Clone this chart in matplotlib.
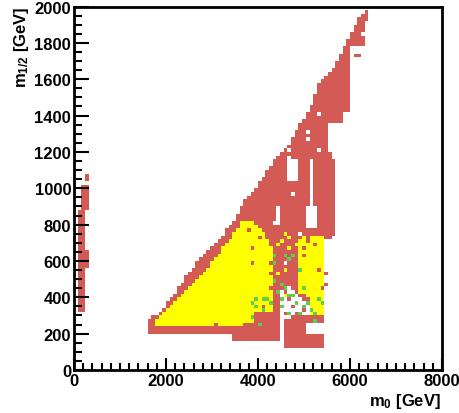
import numpy as np
import matplotlib
matplotlib.use("Agg")
import matplotlib.pyplot as plt
from matplotlib.path import Path
from matplotlib.colors import ListedColormap
from matplotlib.ticker import MultipleLocator

plt.rcParams["font.family"] = ["Liberation Sans", "DejaVu Sans"]
plt.rcParams["mathtext.fontset"] = "custom"
plt.rcParams["mathtext.rm"] = "Liberation Sans:bold"
plt.rcParams["mathtext.it"] = "Liberation Sans:bold"
plt.rcParams["mathtext.bf"] = "Liberation Sans:bold"

# scan binning (GeV)
m0_edges = np.arange(0, 8001, 80)
m12_edges = np.arange(0, 2001, 20)

# outlines of the red (allowed) area, (m0, m1/2) in GeV
red_main = [
    (1600, 200), (1590, 265), (1870, 320), (2300, 460), (2740, 620),
    (3170, 720), (3540, 845), (3670, 920), (3980, 1010), (4110, 1065),
    (4330, 1140), (4480, 1195), (4700, 1250), (4850, 1320), (4980, 1380),
    (5130, 1450), (5350, 1590), (5610, 1645), (5720, 1710), (5890, 1775),
    (6065, 1875), (6150, 1920), (6280, 1970), (6370, 1990),
    (6400, 1990), (6400, 1960), (6350, 1920), (6350, 1885), (6290, 1875),
    (6290, 1780), (6000, 1780), (6000, 1420), (5850, 1420), (5850, 1355),
    (5500, 1355), (5500, 1200), (5565, 1200), (5565, 1160), (5680, 1160),
    (5680, 745), (5460, 715), (5460, 255), (5420, 220), (5420, 115),
    (4560, 115), (4560, 150), (3400, 150), (3400, 190), (1700, 190),
]
red_strip_top = [(240, 1040), (320, 1040), (320, 1080), (240, 1080)]
red_strip = [
    (160, 1020), (320, 1020), (320, 880), (260, 880), (260, 660),
    (320, 660), (320, 560), (260, 560), (260, 310), (80, 310),
    (80, 880), (160, 880),
]
red_regions = [red_main, red_strip_top, red_strip]

# empty pockets inside the red area
white_holes = [
    [(4640, 1040), (4870, 1040), (4870, 1150), (4640, 1150)],
    [(5080, 1150), (5220, 1150), (5220, 900), (5300, 900), (5300, 780),
     (5030, 780), (5030, 900), (5080, 900)],
    [(4480, 130), (4560, 130), (4560, 280), (4700, 280), (4700, 300),
     (5080, 300), (5080, 360), (4980, 390), (4850, 420), (4720, 450),
     (4560, 450), (4480, 420)],
    [(5080, 200), (5420, 200), (5420, 260), (5080, 260)],
]

# yellow areas
yellow_regions = [
    [(1760, 232), (1760, 265), (2240, 400), (2890, 560), (3460, 745),
     (3650, 815), (3940, 815), (4100, 760), (4250, 700), (4330, 650),
     (4330, 310), (3900, 310), (3900, 252), (3700, 252), (3700, 232)],
    [(4850, 700), (5000, 740), (5460, 740), (5460, 300), (5100, 290),
     (5100, 400), (4850, 430)],
]

white_cells = [
    (5300, 1410), (5080, 1310), (5080, 1270), (4700, 1210), (5300, 1210),
    (4650, 1170), (4760, 970), (4440, 830), (4440, 850), (4440, 870),
    (4440, 890), (4360, 800), (4440, 800), (4920, 750), (6300, 1850),
    (4590, 580), (4760, 530), (4740, 380),
]
red_cells = [
    (6120, 1730), (6200, 1730), (5800, 1370),
    (3780, 770), (4000, 735), (3870, 665), (3870, 585), (3080, 250),
    (4260, 595), (4300, 530), (5300, 555), (5390, 455), (5500, 530),
    (5500, 460), (4300, 520), (4720, 530), (4800, 470), (4300, 450),
    (5000, 390), (4600, 300), (5000, 660), (5100, 700), (5200, 680),
    (4960, 620), (5050, 720), (4640, 380), (4720, 340), (4960, 330),
    (4560, 430), (4800, 300), (5020, 270), (4150, 350), (4000, 310),
]
yellow_cells = [
    (4480, 710), (4850, 690), (4590, 550), (4910, 445), (4560, 740),
    (4400, 680), (4680, 720), (4700, 660), (4400, 520), (5000, 560),
    (4800, 360), (4560, 400),
]
green_cells = [
    (3890, 375), (3980, 390), (4090, 390), (4200, 385), (4260, 365),
    (3935, 345), (4110, 330), (4040, 255), (3870, 290),
    (4370, 625), (4330, 595), (4590, 635), (4760, 625), (4370, 485),
    (4760, 415), (4960, 455), (4390, 580), (4650, 615), (4630, 455),
    (4910, 540),
    (4850, 365), (4960, 345), (5090, 375), (5130, 330), (5350, 385),
    (5390, 365), (4910, 310), (5240, 275), (4520, 475), (4400, 425),
    (4700, 415), (4500, 385), (4500, 340), (4700, 305), (5260, 310),
]

RED = "#d35a55"
YELLOW = "#ffff00"
GREEN = "#5ad050"

# fill the scan grid
xc = 0.5 * (m0_edges[:-1] + m0_edges[1:])
yc = 0.5 * (m12_edges[:-1] + m12_edges[1:])
XX, YY = np.meshgrid(xc, yc)
pts = np.column_stack([XX.ravel(), YY.ravel()])
grid = np.zeros(XX.shape, dtype=int)


def paint(polys, code):
    for poly in polys:
        inside = Path(poly).contains_points(pts).reshape(XX.shape)
        grid[inside] = code


def paint_cells(cells, code):
    for m0, m12 in cells:
        grid[int(m12 // 20), int(m0 // 80)] = code


paint(red_regions, 1)
paint(white_holes, 0)
paint(yellow_regions, 2)
paint_cells(white_cells, 0)
paint_cells(red_cells, 1)
paint_cells(yellow_cells, 2)
paint_cells(green_cells, 3)

fig = plt.figure(figsize=(4.6, 4.14), dpi=100)
ax = fig.add_axes([74 / 460, 1 - 371 / 414, 368 / 460, 363.5 / 414])

cmap = ListedColormap([RED, YELLOW, GREEN])
ax.pcolormesh(m0_edges, m12_edges, np.ma.masked_equal(grid, 0),
              cmap=cmap, vmin=0.5, vmax=3.5)

ax.set_xlim(0, 8000)
ax.set_ylim(0, 2000)
ax.xaxis.set_major_locator(MultipleLocator(2000))
ax.xaxis.set_minor_locator(MultipleLocator(200))
ax.yaxis.set_major_locator(MultipleLocator(200))
ax.yaxis.set_minor_locator(MultipleLocator(50))
ax.tick_params(which="both", direction="in", top=False, right=False,
               width=1.5, labelsize=12, pad=2)
ax.tick_params(axis="x", which="major", length=9)
ax.tick_params(axis="x", which="minor", length=5)
ax.tick_params(axis="y", which="major", length=11)
ax.tick_params(axis="y", which="minor", length=6)
for lab in ax.get_xticklabels() + ax.get_yticklabels():
    lab.set_fontweight("bold")
for sp in ax.spines.values():
    sp.set_linewidth(2)

fig.text(22 / 460, 1 - 6 / 414, r"$\mathrm{m}_{1/2}$ [GeV]", rotation=90,
         ha="center", va="top", fontsize=12, fontweight="bold")
fig.text(441 / 460, 1 - 402 / 414, r"$\mathrm{m}_{0}$ [GeV]",
         ha="right", va="center", fontsize=12, fontweight="bold")

fig.savefig("out.png", dpi=100)
